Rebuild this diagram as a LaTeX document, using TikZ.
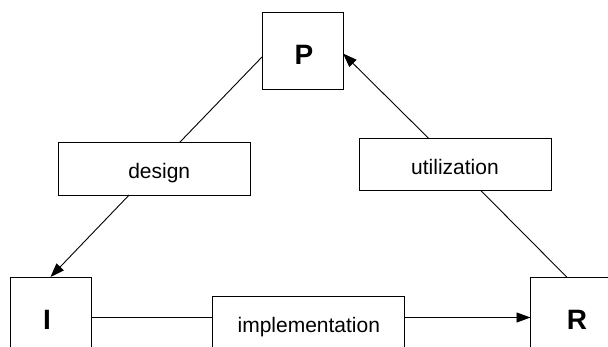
\documentclass[tikz,border=0pt]{standalone}
\usepackage{fontspec}
\setmainfont{Liberation Sans}
\usetikzlibrary{arrows.meta}
\begin{document}
\begin{tikzpicture}[x=1pt,y=-1pt,
  every node/.style={inner sep=0pt, outer sep=0pt},
  stage/.style={draw=black, line width=0.9pt, fill=white,
    minimum width=81pt, minimum height=77pt,
    font=\bfseries\fontsize{28}{30}\selectfont,
    text height=30pt, text depth=2pt},
  phase/.style={draw=black, line width=0.9pt, fill=white,
    minimum width=192pt, minimum height=52.5pt,
    font=\fontsize{21}{24}\selectfont,
    text height=26pt, text depth=6pt},
  link/.style={line width=0.9pt, draw=black},
  flow/.style={link, -{Triangle[length=14pt,width=10pt]}}
]
% page area and white background
\fill[white] (0,0) rectangle (608,347);
\useasboundingbox (0,0) rectangle (608,347);

% the three stages
\node[stage] (P) at (302.5,50.5) {\hspace*{3pt}P};
\node[stage] (I) at (50.5,315.5) {I\hspace*{7pt}};
\node[stage, minimum width=93pt] (R) at (577,315.5) {R};

% the three activities
\node[phase] (design) at (154.2,168.8) {\hspace*{10pt}design};
\node[phase] (util) at (455,164.5) {utilization};
\node[phase] (impl) at (308.8,323) {implementation};

% connection points on the stage boxes
\coordinate (Pout) at ([yshift=-6.5pt]P.west);
\coordinate (Pin)  at ([yshift=-3pt]P.east);
\coordinate (Rout) at ([xshift=-10.3pt]R.north);
\coordinate (Iout) at ([yshift=-2pt]I.east);
\coordinate (Rin)  at ([yshift=-2pt]R.west);

% P -> design -> I
\draw[link] (Pout) -- (design);
\draw[flow] (design) -- (I.north);

% R -> utilization -> P
\draw[link] (Rout) -- (util);
\draw[flow] (util) -- (Pin);

% I -> implementation -> R
\draw[link] (Iout) -- (Iout -| impl.west);
\draw[flow] (Iout -| impl.east) -- (Rin);
\end{tikzpicture}
\end{document}
